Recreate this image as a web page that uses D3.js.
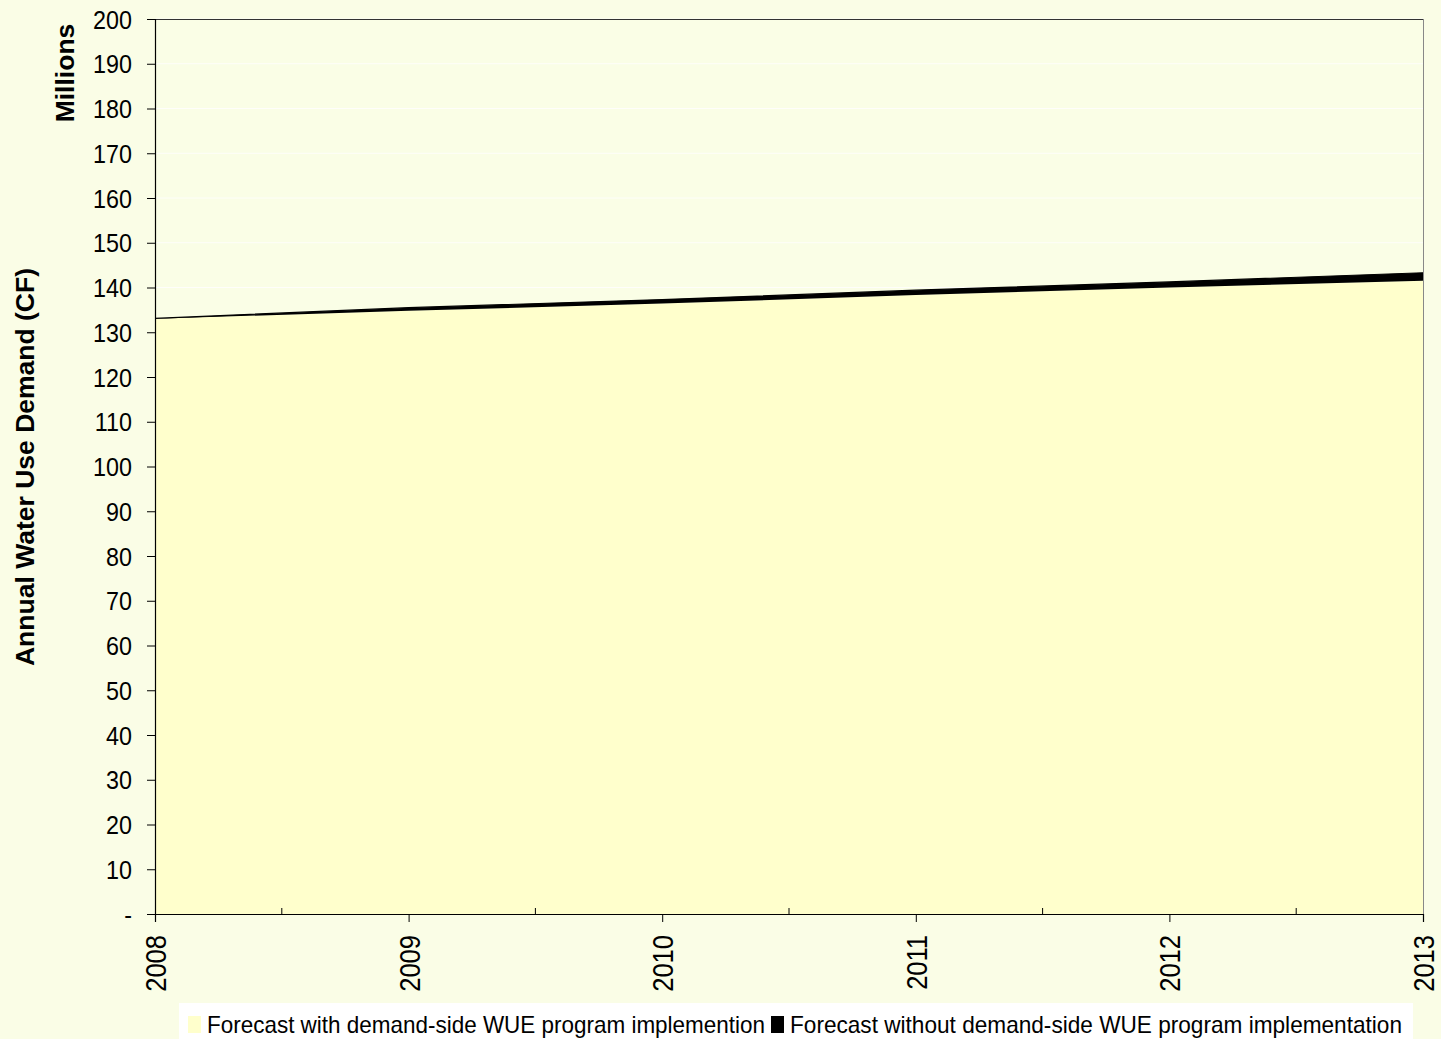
<!DOCTYPE html>
<html>
<head>
<meta charset="utf-8">
<script src="https://cdn.jsdelivr.net/npm/d3@7"></script>
<style>
  html, body { margin: 0; padding: 0; background: #FAFDE6; }
  svg { display: block; font-family: Arial, "Liberation Sans", sans-serif; }
</style>
</head>
<body>
<svg id="chart" width="1441" height="1039"></svg>
<script>
const years = [2008, 2009, 2010, 2011, 2012, 2013];
const withProgram = [133.0, 134.8, 136.4, 138.3, 140.0, 141.5];
const withoutExtra = [0.1, 0.7, 0.9, 1.1, 1.25, 1.8];
const yTicks = [0,10,20,30,40,50,60,70,80,90,100,110,120,130,140,150,160,170,180,190,200];
const seriesNames = ["Forecast with demand-side WUE program implemention", "Forecast without demand-side WUE program implementation"];
const seriesColors = ["#FFFFCC", "#000000"];

(function () {
const svg = d3.select("#chart");
const mLeft = 155, mRight = 1423, mTop = 19, mBottom = 914;
const FONT = "Arial, 'Liberation Sans', sans-serif";
const SQ = 0.88;

const x = d3.scaleLinear().domain([2008, 2013]).range([mLeft, mRight]);
const y = d3.scaleLinear().domain([0, 200]).range([mBottom, mTop]);

// plot background
svg.append("rect").attr("x", mLeft).attr("y", mTop).attr("width", mRight-mLeft).attr("height", mBottom-mTop)
  .attr("fill", "#FAFEE6");

// gridlines
svg.append("g").selectAll("line").data(yTicks.filter(d => d > 0)).join("line")
  .attr("x1", mLeft).attr("x2", mRight).attr("y1", d => y(d)).attr("y2", d => y(d))
  .attr("stroke", "#ffffff").attr("stroke-width", 1).attr("opacity", 0.8);

const data = years.map((yr, i) => ({year: yr, a: withProgram[i], b: withoutExtra[i]}));
const stacked = d3.stack().keys(["a", "b"])(data);

const area = d3.area().x(d => x(d.data.year)).y0(d => y(d[0])).y1(d => y(d[1]));
svg.append("g").selectAll("path").data(stacked).join("path")
  .attr("d", area)
  .attr("fill", (d, i) => seriesColors[i]);

// thin outline on top of the stack
svg.append("path").datum(stacked[1])
  .attr("d", d3.line().x(d => x(d.data.year)).y(d => y(d[1])))
  .attr("fill", "none").attr("stroke", "#000").attr("stroke-width", 1.2);

// plot border top/right
svg.append("line").attr("x1", mLeft).attr("x2", mRight).attr("y1", mTop+0.5).attr("y2", mTop+0.5).attr("stroke", "#333");
svg.append("line").attr("x1", mRight+0.5).attr("x2", mRight+0.5).attr("y1", mTop).attr("y2", mBottom).attr("stroke", "#888");

// y axis
const yAxis = d3.axisLeft(y).tickValues(yTicks).tickSize(8).tickPadding(8)
  .tickFormat(d => d === 0 ? "-" : d);
const gy = svg.append("g").attr("transform", `translate(${mLeft},0)`).call(yAxis);
gy.select(".domain").attr("stroke", "#000").attr("stroke-width", 1.2);
gy.selectAll(".tick line").attr("stroke", "#000");
gy.selectAll("text").attr("font-size", 26.5).attr("fill", "#000").attr("font-family", FONT)
  .attr("x", 0).attr("dy", "0.34em")
  .attr("transform", `translate(-23,0) scale(${SQ},1)`);

// x axis
const xAxis = d3.axisBottom(x).tickValues(years).tickSize(8).tickFormat(d3.format("d"));
const gx = svg.append("g").attr("transform", `translate(0,${mBottom})`).call(xAxis);
gx.select(".domain").attr("stroke", "#000").attr("stroke-width", 1.2);
gx.selectAll(".tick line").attr("stroke", "#000");
gx.selectAll("text")
  .attr("font-size", 29).attr("fill", "#000").attr("font-family", FONT)
  .attr("transform", `translate(0,21) rotate(-90) scale(${SQ},1)`)
  .attr("text-anchor", "end")
  .attr("x", 0).attr("y", 0).attr("dy", "0.36em");

// minor ticks (inside) at half years
const halfYears = years.slice(0, -1).map(v => v + 0.5);
svg.append("g").selectAll("line").data(halfYears).join("line")
  .attr("x1", d => x(d)).attr("x2", d => x(d)).attr("y1", mBottom).attr("y2", mBottom - 6)
  .attr("stroke", "#000");

// axis titles
svg.append("text").attr("transform", `translate(34,467) rotate(-90)`)
  .attr("text-anchor", "middle").attr("font-size", 26.5).attr("font-weight", "bold").attr("font-family", FONT)
  .text("Annual Water Use Demand (CF)");
svg.append("text").attr("transform", `translate(74,73) rotate(-90)`)
  .attr("text-anchor", "middle").attr("font-size", 26.5).attr("font-weight", "bold").attr("font-family", FONT)
  .text("Millions");

// legend
const lg = svg.append("g");
lg.append("rect").attr("x", 179).attr("y", 1003).attr("width", 1234).attr("height", 40).attr("fill", "#ffffff");
const legendX = [188, 771];
const legendLen = [558, 612];
seriesNames.forEach((name, i) => {
  lg.append("rect").attr("x", legendX[i]).attr("y", 1016).attr("width", 13).attr("height", 17)
    .attr("fill", seriesColors[i]);
  lg.append("text").attr("x", legendX[i] + 19).attr("y", 1033)
    .attr("font-size", 24).attr("fill", "#000").attr("font-family", FONT)
    .attr("textLength", legendLen[i]).attr("lengthAdjust", "spacingAndGlyphs")
    .text(name);
});
})();
</script>
</body>
</html>
